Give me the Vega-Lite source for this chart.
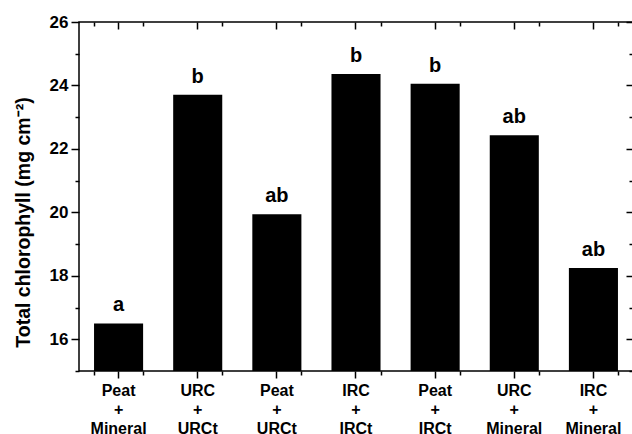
{
  "$schema": "https://vega.github.io/schema/vega-lite/v6.json",
  "width": 554,
  "height": 349,
  "autosize": {"type": "none"},
  "padding": {"left": 79, "top": 22, "right": 0, "bottom": 63},
  "background": "white",
  "config": {
    "view": {"stroke": "black", "strokeWidth": 1.5},
    "font": "Liberation Sans",
    "axis": {
      "domain": false,
      "grid": false,
      "tickColor": "black",
      "tickWidth": 1.5,
      "labelColor": "black",
      "labelFont": "Liberation Sans",
      "labelFontWeight": "bold",
      "titleFont": "Liberation Sans",
      "titleFontWeight": "bold",
      "titleColor": "black"
    }
  },
  "data": {
    "values": [
      {"treatment": "Peat|+|Mineral", "chlorophyll": 16.5, "group": "a"},
      {"treatment": "URC|+|URCt", "chlorophyll": 23.71, "group": "b"},
      {"treatment": "Peat|+|URCt", "chlorophyll": 19.94, "group": "ab"},
      {"treatment": "IRC|+|IRCt", "chlorophyll": 24.36, "group": "b"},
      {"treatment": "Peat|+|IRCt", "chlorophyll": 24.05, "group": "b"},
      {"treatment": "URC|+|Mineral", "chlorophyll": 22.43, "group": "ab"},
      {"treatment": "IRC|+|Mineral", "chlorophyll": 18.25, "group": "ab"}
    ]
  },
  "encoding": {
    "x": {
      "field": "treatment",
      "type": "nominal",
      "sort": null,
      "scale": {"paddingInner": 0.38, "paddingOuter": 0.19}
    },
    "y": {
      "field": "chlorophyll",
      "type": "quantitative",
      "scale": {"domain": [15, 26], "nice": false, "zero": false}
    }
  },
  "layer": [
    {
      "mark": {"type": "bar", "color": "black", "clip": true},
      "encoding": {
        "x": {
          "field": "treatment",
          "type": "nominal",
          "sort": null,
          "axis": {
            "orient": "bottom",
            "title": null,
            "labelAngle": 0,
            "labelExpr": "split(datum.value, '|')",
            "labelFontSize": 16,
            "labelLineHeight": 19,
            "labelBaseline": "top",
            "labelPadding": 4,
            "labelOverlap": false,
            "labelBound": false,
            "tickSize": 7
          }
        },
        "y": {
          "field": "chlorophyll",
          "type": "quantitative",
          "axis": {
            "orient": "left",
            "title": "Total chlorophyll (mg cm⁻²)",
            "titleFontSize": 19.5,
            "titlePadding": 16,
            "titleY": 200,
            "values": [15, 16, 17, 18, 19, 20, 21, 22, 23, 24, 25, 26],
            "labelExpr": "datum.value % 2 === 0 ? datum.label : ''",
            "labelFontSize": 17,
            "labelPadding": 3,
            "labelOverlap": false,
            "tickSize": {"condition": {"test": "datum.value % 2 === 0", "value": 8}, "value": 4}
          }
        }
      }
    },
    {
      "mark": {"type": "point", "opacity": 0},
      "encoding": {
        "x": {
          "field": "treatment",
          "type": "nominal",
          "sort": null,
          "axis": {"orient": "top", "offset": -7, "title": null, "labels": false, "tickSize": 7}
        },
        "y": {
          "field": "chlorophyll",
          "type": "quantitative",
          "axis": {
            "orient": "left",
            "offset": -554,
            "title": null,
            "labels": false,
            "values": [15, 16, 17, 18, 19, 20, 21, 22, 23, 24, 25, 26],
            "tickSize": {"condition": {"test": "datum.value % 2 === 0", "value": 7}, "value": 4}
          }
        }
      }
    },
    {
      "mark": {"type": "text", "baseline": "alphabetic", "dy": -12, "fontSize": 20, "fontWeight": "bold", "font": "Liberation Sans", "color": "black"},
      "encoding": {
        "text": {"field": "group"},
        "x": {
          "field": "treatment",
          "type": "nominal",
          "sort": null,
          "axis": {"orient": "bottom", "title": null, "labels": false, "tickBand": "extent", "tickSize": 4}
        },
        "y": {"field": "chlorophyll", "type": "quantitative", "axis": null}
      }
    },
    {
      "mark": {"type": "circle", "opacity": 0},
      "encoding": {
        "x": {
          "field": "treatment",
          "type": "nominal",
          "sort": null,
          "axis": {"orient": "top", "offset": -4, "title": null, "labels": false, "tickBand": "extent", "tickSize": 4}
        },
        "y": {"field": "chlorophyll", "type": "quantitative", "axis": null}
      }
    }
  ],
  "resolve": {"axis": {"x": "independent", "y": "independent"}}
}
